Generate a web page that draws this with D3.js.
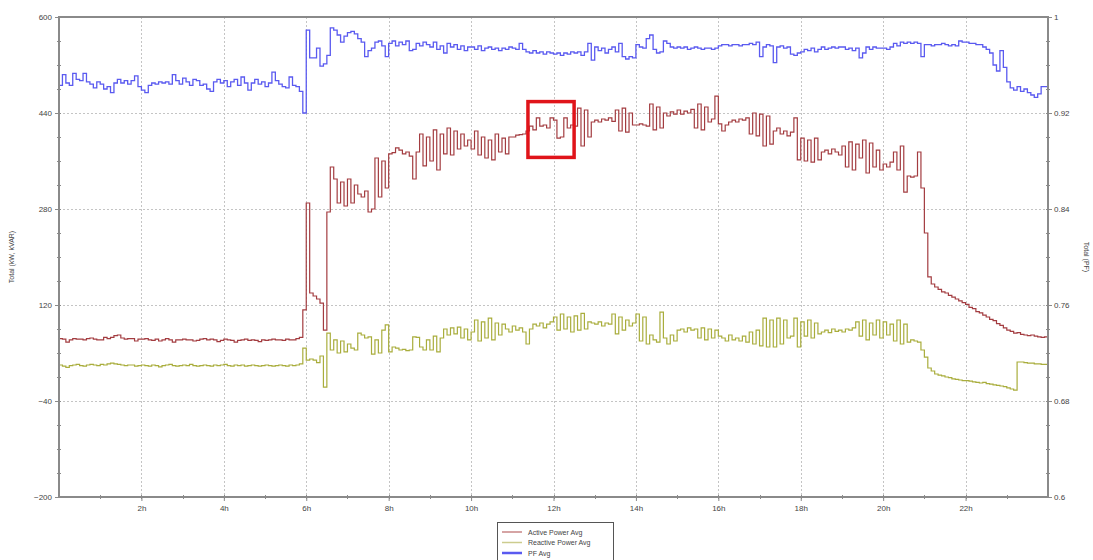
<!DOCTYPE html>
<html>
<head>
<meta charset="utf-8">
<script src="https://cdn.jsdelivr.net/npm/d3@7"></script>
<style>
  html, body { margin: 0; padding: 0; background: #fff; }
  svg { display: block; font-family: "Liberation Sans", Arial, sans-serif; }
</style>
</head>
<body>
<svg id="chart" width="1093" height="560"></svg>
<script>
// 5-minute averages over one day (288 samples per series)
const activePower = [
  64,63,58,62,64,63,63,62,64,65,63,62,
  62,66,64,66,69,70,65,63,64,64,60,63,
  63,64,62,61,63,60,62,64,62,58,62,62,
  63,62,62,60,61,63,64,62,63,62,59,61,
  63,62,61,58,61,62,63,61,62,61,59,62,
  61,62,63,62,62,61,63,62,62,64,66,112,
  290,140,135,130,123,78,275,350,330,290,325,285,
  330,290,320,305,300,310,275,280,365,300,360,315,
  372,374,382,378,372,375,368,330,375,405,352,400,
  360,412,345,405,372,415,370,410,380,405,385,395,
  380,410,370,400,365,395,362,405,375,398,372,400,
  400,403,404,405,410,418,412,432,418,420,415,432,
  428,398,400,432,415,420,418,448,385,445,400,425,
  428,425,430,428,432,426,445,410,448,408,440,420,
  420,422,420,418,455,412,450,415,440,435,442,438,
  445,438,443,440,446,415,455,412,450,425,430,468,
  422,410,420,425,428,425,430,428,432,405,440,402,
  438,385,435,388,410,415,405,410,402,408,432,362,
  398,360,395,358,398,362,375,378,372,380,375,370,
  385,350,392,345,388,365,395,340,390,350,378,345,
  355,350,358,375,345,385,308,335,333,335,375,315,
  240,167,155,150,146,142,140,136,133,130,127,124,
  121,116,114,109,107,103,100,96,94,89,86,82,
  78,76,73,74,71,70,69,70,68,67,66,67
];

const reactivePower = [
  20,18,16,19,20,21,19,18,20,21,20,19,
  21,20,22,23,22,21,20,19,20,20,18,19,
  20,19,18,20,19,17,19,20,21,19,18,19,
  20,19,21,19,18,19,20,19,18,20,19,20,
  21,19,18,20,19,20,18,19,20,19,18,19,
  20,19,18,19,20,19,18,20,19,20,22,48,
  28,30,28,24,35,-17,73,45,62,40,60,42,
  55,48,45,73,70,65,67,38,62,40,78,87,
  42,50,48,45,46,44,45,67,66,50,45,62,
  45,68,42,65,80,70,82,72,83,65,80,62,
  75,95,60,92,65,98,62,90,70,88,80,75,
  85,78,82,75,55,80,88,85,90,82,88,92,
  100,78,105,80,100,75,102,78,106,80,92,90,
  88,92,85,90,88,105,72,100,78,95,85,90,
  105,60,100,55,70,62,58,108,65,55,70,60,
  78,80,75,82,78,80,65,82,62,80,65,78,
  68,65,60,70,62,65,60,68,58,75,55,78,
  52,98,50,95,50,98,55,95,65,68,98,50,
  92,68,95,65,90,72,75,78,74,80,76,78,
  75,80,78,82,92,68,95,62,90,70,95,65,
  92,70,88,60,95,55,88,58,62,60,58,45,
  33,15,10,5,3,2,0,-1,-3,-4,-5,-6,
  -6,-7,-8,-9,-10,-9,-11,-12,-13,-14,-15,-16,
  -18,-20,-22,25,25,24,23,23,22,22,21,21
];

const pfAvg = [
  0.943,0.952,0.945,0.943,0.953,0.948,0.947,0.953,0.946,0.944,0.941,0.946,
  0.944,0.940,0.942,0.937,0.945,0.948,0.945,0.947,0.944,0.947,0.951,0.942,
  0.939,0.937,0.943,0.945,0.944,0.946,0.945,0.946,0.944,0.952,0.947,0.944,
  0.949,0.946,0.943,0.948,0.947,0.943,0.944,0.940,0.938,0.946,0.948,0.945,
  0.947,0.942,0.946,0.948,0.943,0.950,0.945,0.939,0.945,0.948,0.944,0.946,
  0.942,0.945,0.954,0.947,0.944,0.942,0.941,0.950,0.943,0.942,0.938,0.920,
  0.989,0.966,0.966,0.974,0.959,0.961,0.968,0.991,0.989,0.985,0.979,0.984,
  0.987,0.988,0.986,0.982,0.979,0.967,0.972,0.974,0.979,0.980,0.976,0.967,
  0.978,0.980,0.976,0.979,0.977,0.980,0.972,0.973,0.978,0.976,0.979,0.977,
  0.975,0.979,0.973,0.976,0.970,0.978,0.975,0.977,0.973,0.976,0.972,0.975,
  0.975,0.973,0.976,0.972,0.974,0.975,0.973,0.974,0.972,0.974,0.973,0.975,
  0.974,0.973,0.978,0.973,0.971,0.970,0.972,0.970,0.971,0.969,0.971,0.970,
  0.969,0.970,0.968,0.970,0.969,0.971,0.970,0.971,0.968,0.971,0.978,0.964,
  0.975,0.972,0.974,0.970,0.973,0.975,0.971,0.978,0.967,0.965,0.967,0.966,
  0.977,0.975,0.974,0.982,0.985,0.973,0.970,0.971,0.980,0.978,0.975,0.974,
  0.975,0.974,0.975,0.973,0.974,0.975,0.974,0.973,0.974,0.974,0.973,0.974,
  0.976,0.977,0.977,0.976,0.977,0.977,0.976,0.977,0.977,0.978,0.977,0.979,
  0.967,0.975,0.977,0.976,0.962,0.975,0.976,0.974,0.975,0.969,0.968,0.970,
  0.971,0.973,0.972,0.974,0.971,0.973,0.975,0.973,0.974,0.975,0.974,0.975,
  0.975,0.973,0.974,0.972,0.974,0.966,0.970,0.975,0.973,0.975,0.974,0.974,
  0.974,0.973,0.975,0.978,0.976,0.979,0.978,0.979,0.978,0.979,0.978,0.967,
  0.977,0.977,0.976,0.977,0.977,0.978,0.977,0.976,0.977,0.976,0.980,0.979,
  0.979,0.978,0.978,0.977,0.977,0.975,0.973,0.970,0.960,0.955,0.972,0.958,
  0.946,0.941,0.939,0.942,0.938,0.940,0.937,0.935,0.933,0.936,0.942,0.942
];

// Axis ticks
const xTicks = [2, 4, 6, 8, 10, 12, 14, 16, 18, 20, 22];
const xTickLabels = ["2h", "4h", "6h", "8h", "10h", "12h", "14h", "16h", "18h", "20h", "22h"];
const leftTicks = [-200, -40, 120, 280, 440, 600];
const rightTicks = [0.6, 0.68, 0.76, 0.84, 0.92, 1];
const rightTickLabels = ["0.6", "0.68", "0.76", "0.84", "0.92", "1"];

const seriesNames = ["Active Power Avg", "Reactive Power Avg", "PF Avg"];
const seriesColors = ["#a33c40", "#a9ad3c", "#5a5af0"];
const legendColors = ["#c98686", "#cccc8e", "#5a5af0"];

// Highlighted window on the active power curve (hours, kW)
const highlight = { t0: 11.38, t1: 12.5, top: 459, bottom: 366 };

const svg = d3.select("#chart");
const plotL = 59, plotR = 1048, plotT = 17, plotB = 497;

const x = d3.scaleLinear().domain([0, 24]).range([plotL, plotR]);
const yL = d3.scaleLinear().domain([-200, 600]).range([plotB, plotT]);
const yR = d3.scaleLinear().domain([0.6, 1]).range([plotB, plotT]);

const step = 24 / activePower.length;
const times = d3.range(activePower.length).map(i => i * step);

// Grid
const grid = svg.append("g").attr("stroke", "#c4c4c4").attr("stroke-width", 1)
  .attr("stroke-dasharray", "2,2").attr("fill", "none");
xTicks.forEach(t => grid.append("line")
  .attr("x1", Math.round(x(t)) + 0.5).attr("x2", Math.round(x(t)) + 0.5)
  .attr("y1", plotT).attr("y2", plotB));
leftTicks.slice(1, -1).forEach(v => grid.append("line")
  .attr("x1", plotL).attr("x2", plotR)
  .attr("y1", Math.round(yL(v)) + 0.5).attr("y2", Math.round(yL(v)) + 0.5));

// Series as stepped lines
function drawSeries(values, yScale, color, width) {
  const pts = values.map((v, i) => [times[i], v]);
  pts.push([24, values[values.length - 1]]);
  const line = d3.line()
    .x(d => x(d[0]))
    .y(d => yScale(d[1]))
    .curve(d3.curveStepAfter);
  svg.append("path").datum(pts)
    .attr("fill", "none")
    .attr("stroke", color)
    .attr("stroke-width", width)
    .attr("stroke-linejoin", "miter")
    .attr("d", line);
}
drawSeries(reactivePower, yL, seriesColors[1], 1.2);
drawSeries(activePower, yL, seriesColors[0], 1.2);
drawSeries(pfAvg, yR, seriesColors[2], 1.3);

// Frame
svg.append("rect")
  .attr("x", plotL).attr("y", plotT)
  .attr("width", plotR - plotL).attr("height", plotB - plotT)
  .attr("fill", "none").attr("stroke", "#8a8a8a").attr("stroke-width", 2);

// Axes
const tickFont = 8;
const axLeft = d3.axisLeft(yL).tickValues(leftTicks).tickSize(4).tickFormat(d3.format("d"));
const gL = svg.append("g").attr("transform", `translate(${plotL},0)`).call(axLeft);
const axRight = d3.axisRight(yR).tickValues(rightTicks).tickSize(4)
  .tickFormat((d, i) => rightTickLabels[i]);
const gR = svg.append("g").attr("transform", `translate(${plotR},0)`).call(axRight);
const axBottom = d3.axisBottom(x).tickValues(xTicks).tickSize(4)
  .tickFormat((d, i) => xTickLabels[i]);
const gB = svg.append("g").attr("transform", `translate(0,${plotB})`).call(axBottom);
[gL, gR, gB].forEach(g => {
  g.select(".domain").remove();
  g.selectAll(".tick line").attr("stroke", "#8a8a8a");
  g.selectAll("text").attr("fill", "#444").style("font-size", tickFont + "px")
    .style("font-family", "'Liberation Sans', Arial, sans-serif");
});
gL.selectAll("text").attr("x", -7);
gR.selectAll("text").attr("x", 6);
gB.selectAll("text").attr("y", 8);

// Minor ticks
const minor = svg.append("g").attr("stroke", "#8a8a8a").attr("stroke-width", 1);
d3.range(-200, 601, 40).forEach(v => minor.append("line")
  .attr("x1", plotL - 2).attr("x2", plotL + 2)
  .attr("y1", Math.round(yL(v)) + 0.5).attr("y2", Math.round(yL(v)) + 0.5));
d3.range(0, 21).forEach(k => {
  const v = 0.6 + k * 0.02;
  minor.append("line")
    .attr("x1", plotR - 2).attr("x2", plotR + 2)
    .attr("y1", Math.round(yR(v)) + 0.5).attr("y2", Math.round(yR(v)) + 0.5);
});
d3.range(1, 24).forEach(h => minor.append("line")
  .attr("x1", Math.round(x(h)) + 0.5).attr("x2", Math.round(x(h)) + 0.5)
  .attr("y1", plotB - 2).attr("y2", plotB + 2));

// Axis titles
svg.append("text")
  .attr("transform", `translate(14,${(plotT + plotB) / 2}) rotate(-90)`)
  .attr("text-anchor", "middle").attr("fill", "#444")
  .style("font-size", "7px").text("Total (kW, kVAR)");
svg.append("text")
  .attr("transform", `translate(1084,${(plotT + plotB) / 2}) rotate(90)`)
  .attr("text-anchor", "middle").attr("fill", "#444")
  .style("font-size", "7px").text("Total (PF)");

// Highlight box
svg.append("rect")
  .attr("x", x(highlight.t0)).attr("y", yL(highlight.top))
  .attr("width", x(highlight.t1) - x(highlight.t0))
  .attr("height", yL(highlight.bottom) - yL(highlight.top))
  .attr("fill", "none").attr("stroke", "#e0141a").attr("stroke-width", 3.5);

// Legend
const lg = svg.append("g").attr("transform", "translate(497,522)");
lg.append("rect").attr("x", 0.5).attr("y", 0.5).attr("width", 116).attr("height", 40)
  .attr("fill", "#fff").attr("stroke", "#555").attr("stroke-width", 1);
seriesNames.forEach((name, i) => {
  const yy = 10 + i * 10.5;
  lg.append("line").attr("x1", 5).attr("x2", 25).attr("y1", yy).attr("y2", yy)
    .attr("stroke", legendColors[i]).attr("stroke-width", i === 2 ? 2.5 : 1.5);
  lg.append("text").attr("x", 31).attr("y", yy + 2.5)
    .attr("fill", "#444").style("font-size", "7px").text(name);
});
</script>
</body>
</html>
